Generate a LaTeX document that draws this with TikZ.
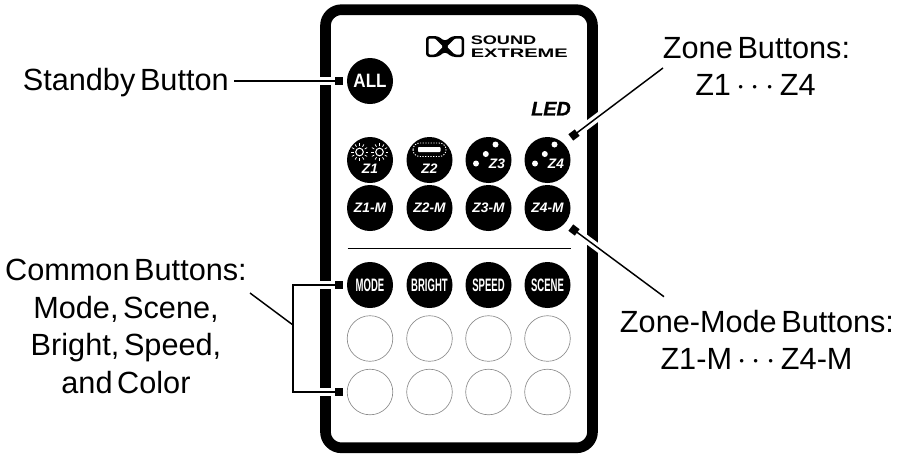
\documentclass[tikz,border=0pt]{standalone}
\usepackage{fontspec}
\setmainfont[WordSpace=0.55]{Liberation Sans}
\newfontfamily\narrowf[FakeStretch=0.53]{Liberation Sans Bold}
\newfontfamily\allf[FakeStretch=0.88]{Liberation Sans Bold}
\newfontfamily\sndf[FakeStretch=1.46]{Liberation Sans Bold}
\newfontfamily\extf[FakeStretch=1.62]{Liberation Sans Bold}
\newfontfamily\ledf[FakeBold=1.2]{Liberation Sans Bold Italic}
\usetikzlibrary{calc}
\tikzset{
  x=0.75pt,y=-0.75pt,
  lab/.style={font=\fontsize{23}{27}\selectfont,inner sep=0,anchor=base,text=black},
  btn/.style={circle,fill=black,minimum size=34.5pt,inner sep=0,text=white},
  hollow/.style={circle,draw=black!45,line width=0.5pt,minimum size=34.2pt,inner sep=0},
  ztext/.style={font=\fontsize{10.3}{12}\bfseries\itshape\selectfont,text=white,inner sep=0},
  ntext/.style={font=\narrowf\fontsize{13.5}{13.5}\selectfont},
  lgtext/.style={inner sep=0,anchor=base west,text=black},
  lead/.style={line width=1.1pt,draw=black},
  halo/.style={line width=6pt,draw=white},
  sq/.style={fill=black,draw=none,minimum size=6pt,inner sep=0},
}
\newcommand{\sunicon}[2]{%
  \draw[white,line width=0.8pt] (#1,#2) circle (3.8);
  \foreach \a in {0,30,...,330}{\draw[white,line width=0.55pt] ($(#1,#2)+(\a:6)$) -- ($(#1,#2)+(\a:8.8)$);}
}
\begin{document}
\begin{tikzpicture}
\useasboundingbox (0,0) rectangle (903,455);
% frame
\draw[line width=8pt,rounded corners=12pt,draw=black] (325.5,9.7) rectangle (592.5,447.8);
% separator
\coordinate (sepL) at (347.5,248.5); \coordinate (sepR) at (571,248.5);
\draw[line width=0.9pt] (sepL) -- (sepR);
% buttons
\node[btn,font=\allf\fontsize{14.5}{14.5}\selectfont] (all) at (370,81) {ALL};
\foreach \n/\x in {1/370,2/429.5,3/488.5,4/547.5}{
  \node[btn] (z\n) at (\x,160) {};
  \node[btn,ztext] (zm\n) at (\x,208) {Z\n-M};
}
\node[ztext,anchor=base] (zt1) at (370,173) {Z1};
\node[ztext,anchor=base] (zt2) at (429.5,173) {Z2};
\node[ztext,anchor=base] (zt3) at (497,168) {Z3};
\node[ztext,anchor=base] (zt4) at (556,168) {Z4};
\sunicon{359.5}{152}\sunicon{379.5}{152}
\fill[white,rounded corners=0.6pt] (418,147) rectangle (440.5,152);
\draw[white,line width=0.7pt,dash pattern=on 0.9pt off 1.1pt,rounded corners=5pt] (413,143) rectangle (446,156.5);
\foreach \xx in {488.5,547.5}{
  \fill[white] (\xx-12.5,163.5) circle (3);
  \fill[white] (\xx-2.7,154) circle (3);
  \fill[white] (\xx+7,144.5) circle (3);
}
\node[btn,ntext] (mode) at (370,285) {MODE};
\node[btn,ntext] (bright) at (429.5,285) {BRIGHT};
\node[btn,ntext] (speed) at (488.5,285) {SPEED};
\node[btn,ntext] (scene) at (547.5,285) {SCENE};
\foreach \n/\x in {1/370,2/429.5,3/488.5,4/547.5}{
  \node[hollow] (a\n) at (\x,338.5) {};
  \node[hollow] (b\n) at (\x,392) {};
}
% logo
\fill[black,rounded corners=2.5pt] (426,36) -- (438,36) -- (445,41.5) -- (452,36) -- (464,36) -- (464,57) -- (452,57) -- (445,51.5) -- (438,57) -- (426,57) -- cycle;
\fill[white,rounded corners=1pt] (428.5,38.5) -- (435,38.5) -- (443,46.5) -- (435,54.5) -- (428.5,54.5) -- cycle;
\fill[white,rounded corners=1pt] (461.5,38.5) -- (455,38.5) -- (447,46.5) -- (455,54.5) -- (461.5,54.5) -- cycle;
\node[lgtext,font=\sndf\fontsize{9.3}{9.3}\selectfont] (lg1) at (470.5,44.5) {SOUND};
\node[lgtext,font=\extf\fontsize{9.3}{9.3}\selectfont] (lg2) at (470.5,57.3) {EXTREME};
\node[inner sep=0,font=\ledf\fontsize{14.8}{14.8}\selectfont] (led) at (551,108.7) {LED};
% labels
\node[lab,anchor=base east] (standby) at (229,90) {Standby Button};
\node[lab] (zb1) at (756.5,58.3) {Zone Buttons:};
\node[lab] (zb2) at (755.5,95) {Z1\,$\cdots$\,Z4};
\node[lab] (zmb1) at (757,332) {Zone-Mode Buttons:};
\node[lab] (zmb2) at (756.5,369) {Z1-M\,$\cdots$\,Z4-M};
\node[lab] (cb1) at (126,280.5) {Common Buttons:};
\node[lab] (cb2) at (126,318) {Mode, Scene,};
\node[lab] (cb3) at (126,355.5) {Bright, Speed,};
\node[lab] (cb4) at (126,393) {and Color};
% leaders
\coordinate (m0) at (339.3,81);
\coordinate (m1) at (339.3,285);
\coordinate (m2) at (339.3,392);
\coordinate (m3) at (574,135);
\coordinate (m4) at (574,230);
\coordinate (l3) at (663,68);
\coordinate (l4) at (664,296.7);
\coordinate (br1) at (293,285); \coordinate (br2) at (293,392); \coordinate (brm) at (293,325);
\coordinate (cs) at (250,293);
\coordinate (st) at ($(standby.base east)+(5,-9)$);
\draw[halo] (st) -- (m0);
\draw[halo] (m1) -- (br1);
\draw[halo] (m2) -- (br2);
\draw[halo] (l3) -- (m3);
\draw[halo] (l4) -- (m4);
\draw[lead] (st) -- (m0);
\draw[lead] (m1) -- (br1) -- (br2) -- (m2);
\draw[lead] (brm) -- (cs);
\draw[lead] (l3) -- (m3);
\draw[lead] (l4) -- (m4);
\node[sq] (s0) at (m0) {};
\node[sq] (s1) at (m1) {};
\node[sq] (s2) at (m2) {};
\node[sq,rotate=37] (s3) at (m3) {};
\node[sq,rotate=-37] (s4) at (m4) {};
\end{tikzpicture}
\end{document}
